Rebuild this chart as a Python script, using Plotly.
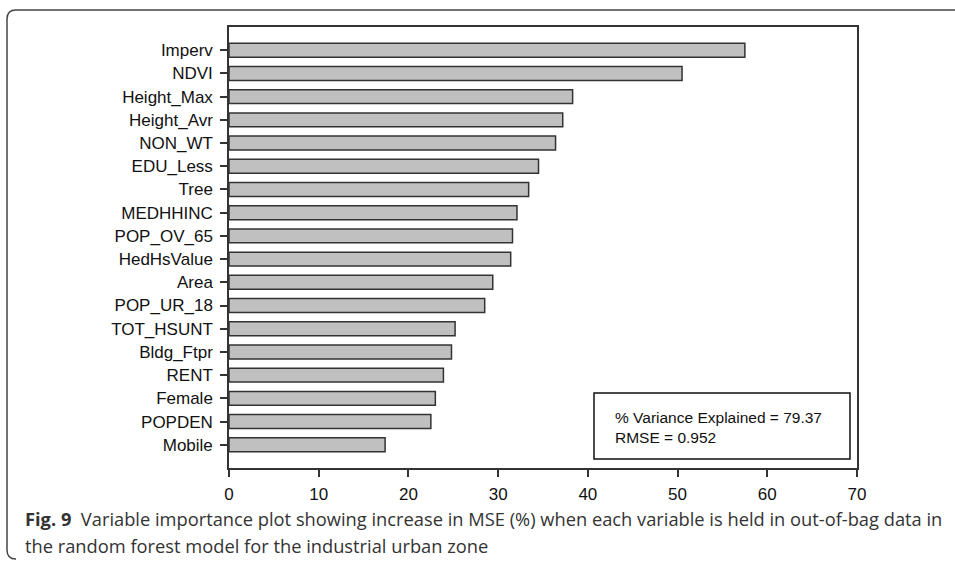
import plotly.graph_objects as go

# Variable importance (% increase in MSE), industrial urban zone
variables = ["Imperv", "NDVI", "Height_Max", "Height_Avr", "NON_WT", "EDU_Less",
             "Tree", "MEDHHINC", "POP_OV_65", "HedHsValue", "Area", "POP_UR_18",
             "TOT_HSUNT", "Bldg_Ftpr", "RENT", "Female", "POPDEN", "Mobile"]
inc_mse = [57.5, 50.5, 38.3, 37.2, 36.4, 34.5, 33.4, 32.1, 31.6, 31.4, 29.4, 28.5,
           25.2, 24.8, 23.9, 23.0, 22.5, 17.4]
x_ticks = [0, 10, 20, 30, 40, 50, 60, 70]

W, H = 955, 563
L, R, T, B = 229, 857, 27, 468


def px(x):
    return (x - L) / (R - L)


def py(y):
    return (B - y) / (B - T)


fig = go.Figure(go.Bar(
    x=inc_mse, y=variables, orientation="h",
    marker=dict(color="#c0c0c0", line=dict(color="#333333", width=1.5)),
    width=0.6,
))

axis_font = dict(family="Liberation Sans, Arial", size=17, color="#111111")

fig.update_layout(
    width=W, height=H,
    margin=dict(l=L, r=W - R, t=T, b=H - B),
    paper_bgcolor="white", plot_bgcolor="white",
    showlegend=False,
    xaxis=dict(range=[0, 70], tickvals=x_ticks, ticks="outside", ticklen=7,
               tickcolor="#333", tickwidth=1.5, showgrid=False, zeroline=False,
               showline=True, linecolor="#333", linewidth=1.5, mirror=True,
               tickfont=axis_font, ticklabelstandoff=3, fixedrange=True),
    yaxis=dict(categoryorder="array", categoryarray=variables,
               autorange=False, range=[len(variables), -1],
               ticks="outside", ticklen=7, tickcolor="#333", tickwidth=1.5,
               showgrid=False, zeroline=False, showline=True, linecolor="#333",
               linewidth=1.5, mirror=True, tickfont=axis_font,
               ticklabelstandoff=4, fixedrange=True),
)

# Model summary box
fig.add_shape(type="rect", xref="paper", yref="paper",
              x0=px(594), x1=px(850), y0=py(459), y1=py(393),
              line=dict(color="#111", width=1.5), fillcolor="white")
fig.add_annotation(xref="paper", yref="paper", x=px(613), y=py(427),
                   xanchor="left", yanchor="middle", align="left", showarrow=False,
                   text="% Variance Explained = 79.37<br>RMSE = 0.952",
                   font=dict(family="Liberation Sans, Arial", size=15.5, color="#111"))

# Figure frame with rounded left corners
r = 9
x0, y0, y1, x_end = 7, 10, 559, 956
frame = (f"M {px(x_end)},{py(y0)} L {px(x0 + r)},{py(y0)} "
         f"Q {px(x0)},{py(y0)} {px(x0)},{py(y0 + r)} "
         f"L {px(x0)},{py(y1 - r)} "
         f"Q {px(x0)},{py(y1)} {px(x0 + r)},{py(y1)}")
fig.add_shape(type="path", xref="paper", yref="paper", path=frame,
              line=dict(color="#444", width=1.5))

# Caption
cap_font = dict(family="Open Sans, Noto Sans", size=18.3, color="#333")
fig.add_annotation(xref="paper", yref="paper", x=px(23), y=py(518),
                   xanchor="left", yanchor="middle", showarrow=False, align="left",
                   text="<b>Fig. 9</b>  Variable importance plot showing increase in MSE (%) "
                        "when each variable is held in out-of-bag data in",
                   font=cap_font)
fig.add_annotation(xref="paper", yref="paper", x=px(23), y=py(545),
                   xanchor="left", yanchor="middle", showarrow=False, align="left",
                   text="the random forest model for the industrial urban zone",
                   font=cap_font)

fig.write_html("out.html")
